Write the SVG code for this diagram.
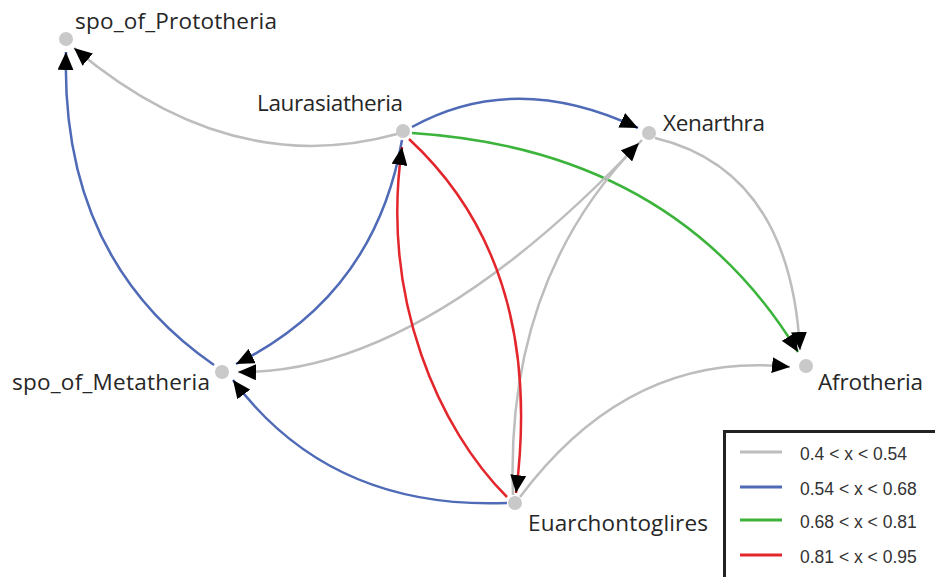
<svg xmlns="http://www.w3.org/2000/svg" width="935" height="577" viewBox="0 0 935 577">
<defs>
<marker id="arr" markerUnits="userSpaceOnUse" markerWidth="18" markerHeight="16" refX="18" refY="8" orient="auto" viewBox="0 0 18 16">
<path d="M0,0 L18,8 L0,16 z" fill="#000"/>
</marker>
<style>
.e{fill:none;stroke-width:2.5;marker-end:url(#arr)}
.gray{stroke:#bdbdbd}
.blue{stroke:#4f6ab6}
.green{stroke:#3cb43c}
.red{stroke:#e3262b}
.n{fill:#c9c9c9}
.lbl{font-family:"Open Sans","Noto Sans",sans-serif;font-size:22.5px;fill:#262626}
.lg{font-family:"Liberation Sans",Arial,sans-serif;font-size:17.5px;fill:#333}
.ll{stroke-width:3;fill:none}
</style>
</defs>
<rect width="935" height="577" fill="#fff"/>
<g id="connectors">
<path class="e gray" d="M397,134 Q230,180 74,48"/>
<path class="e blue" d="M214,365 C120,300 62,200 66,52"/>
<path class="e blue" d="M412,127 Q515,70 638,128"/>
<path class="e green" d="M412,133 Q675,150 798,352"/>
<path class="e gray" d="M655,138 Q790,170 800,350"/>
<path class="e blue" d="M402,140 Q375,295 236,364"/>
<path class="e gray" d="M642,140 Q420,375 238,372"/>
<path class="e gray" d="M513,495 Q505,280 639,143"/>
<path class="e red" d="M409,139 Q545,265 516,493"/>
<path class="e red" d="M507,497 C440,430 380,300 402,147"/>
<path class="e blue" d="M507,503 Q330,510 233,380"/>
<path class="e gray" d="M520,497 Q630,350 790,367"/>
</g>
<g id="spo_of_Prototheria"><circle class="n" cx="66" cy="39" r="7"/><text class="lbl" x="75" y="29" textLength="202">spo_of_Prototheria</text></g>
<g id="Laurasiatheria"><circle class="n" cx="403" cy="131" r="7"/><text class="lbl" x="257" y="111" textLength="146">Laurasiatheria</text></g>
<g id="Xenarthra"><circle class="n" cx="649" cy="133" r="7"/><text class="lbl" x="663" y="131" textLength="102">Xenarthra</text></g>
<g id="Afrotheria"><circle class="n" cx="806" cy="366" r="7"/><text class="lbl" x="818" y="390" textLength="105">Afrotheria</text></g>
<g id="spo_of_Metatheria"><circle class="n" cx="222" cy="372" r="7"/><text class="lbl" x="12" y="390" textLength="198">spo_of_Metatheria</text></g>
<g id="Euarchontoglires"><circle class="n" cx="515" cy="503" r="7"/><text class="lbl" x="528" y="531" textLength="180">Euarchontoglires</text></g>
<g id="legend">
<rect x="724.5" y="431.5" width="300" height="200" fill="#fff" stroke="#222" stroke-width="3"/>
<line class="ll gray" x1="740" y1="452" x2="782" y2="452"/>
<line class="ll blue" x1="740" y1="487" x2="782" y2="487"/>
<line class="ll green" x1="740" y1="520" x2="782" y2="520"/>
<line class="ll red" x1="740" y1="555" x2="782" y2="555"/>
<text class="lg" x="800" y="460">0.4 &lt; x &lt; 0.54</text>
<text class="lg" x="800" y="495">0.54 &lt; x &lt; 0.68</text>
<text class="lg" x="800" y="528">0.68 &lt; x &lt; 0.81</text>
<text class="lg" x="800" y="563">0.81 &lt; x &lt; 0.95</text>
</g>
</svg>
